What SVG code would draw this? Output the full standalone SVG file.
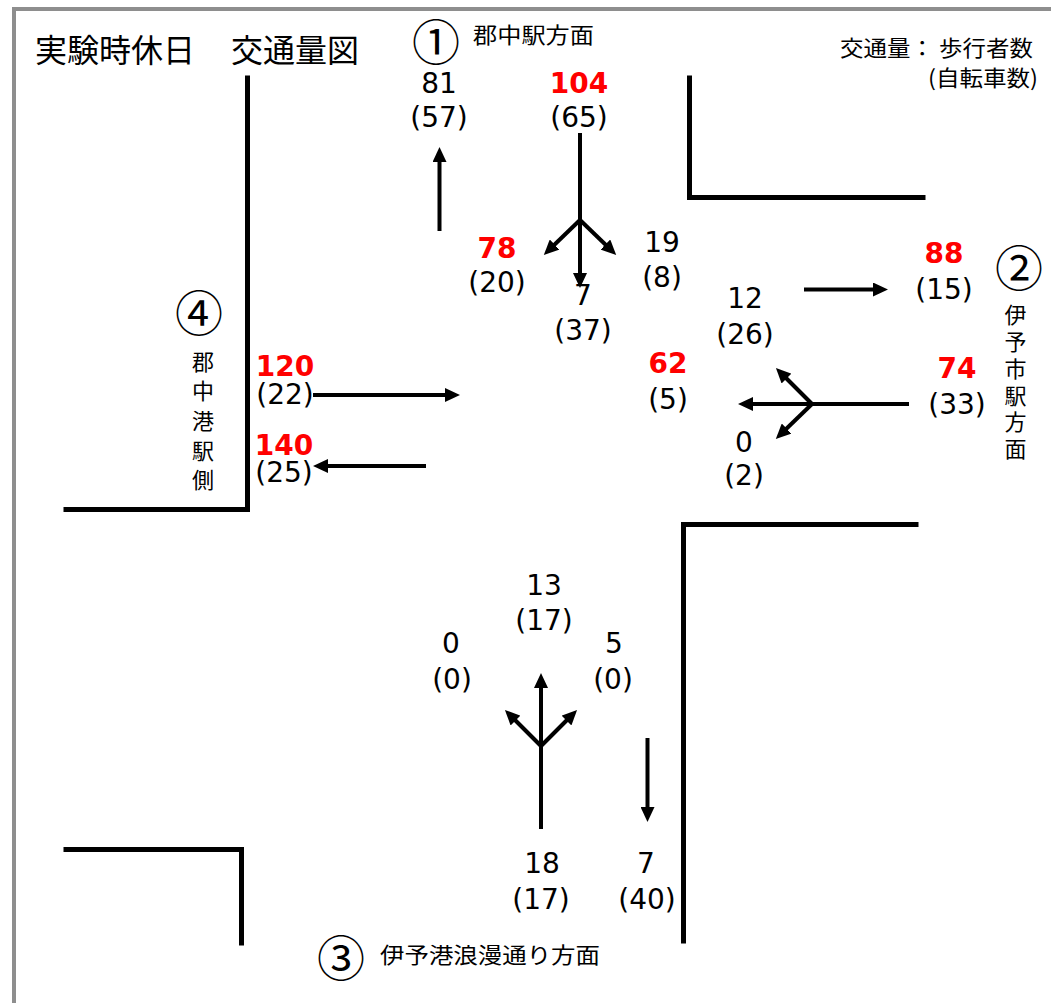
<svg xmlns="http://www.w3.org/2000/svg" width="1051" height="1003" viewBox="0 0 1051 1003">
<style>
.jp{font-family:"Noto Sans CJK JP","Noto Sans",sans-serif;fill:#000}
.num{font-family:"DejaVu Sans","Verdana",sans-serif;font-size:28px;fill:#000;text-anchor:middle}
.red{fill:#ff0000;font-weight:bold}
.road{stroke:#000;stroke-width:5;fill:none;stroke-linecap:square}
.arr{stroke:#000;stroke-width:4;fill:none}
.v{font-size:22px;text-anchor:middle}
.circ{font-size:48px;text-anchor:middle}
</style>
<defs>
<marker id="ah" viewBox="0 0 15 14" markerWidth="15" markerHeight="14" refX="5" refY="7" orient="auto" markerUnits="userSpaceOnUse">
<path d="M0,0 L15,7 L0,14 z" fill="#000"/>
</marker>
</defs>
<rect x="0" y="0" width="1051" height="1003" fill="#fff"/>
<rect id="frame" x="14" y="9" width="1100" height="1100" fill="none" stroke="#8e8e8e" stroke-width="4"/>

<g id="title">
<text class="jp" font-size="32" y="61.5"><tspan x="35">実験時休日</tspan><tspan x="231">交通量図</tspan></text>
</g>
<g id="legend">
<text class="jp" font-size="22" x="840" y="55.5" textLength="193" lengthAdjust="spacingAndGlyphs">交通量： 歩行者数</text>
<text class="jp" font-size="22" x="928" y="86" textLength="110" lengthAdjust="spacingAndGlyphs">(自転車数)</text>
</g>

<g id="roads">
<path class="road" d="M247.5,78 L247.5,509.5 L66,509.5"/>
<path class="road" d="M689.5,78 L689.5,197.5 L923,197.5"/>
<path class="road" d="M916,524.5 L683.5,524.5 L683.5,941"/>
<path class="road" d="M66,849.5 L241.5,849.5 L241.5,943"/>
</g>

<g id="dir1">
<text class="jp circ" x="436" y="60">①</text>
<text class="jp" font-size="22" x="473" y="43" textLength="121" lengthAdjust="spacingAndGlyphs">郡中駅方面</text>
</g>
<g id="dir2">
<text class="jp circ" x="1019" y="286">②</text>
<text class="jp v" x="1015.5" y="323.3">伊</text>
<text class="jp v" x="1015.5" y="350.3">予</text>
<text class="jp v" x="1015.5" y="377.3">市</text>
<text class="jp v" x="1015.5" y="404.3">駅</text>
<text class="jp v" x="1015.5" y="430.3">方</text>
<text class="jp v" x="1015.5" y="457.3">面</text>
</g>
<g id="dir3">
<text class="jp circ" x="341" y="976">③</text>
<text class="jp" font-size="22" x="380" y="962.5" textLength="220" lengthAdjust="spacingAndGlyphs">伊予港浪漫通り方面</text>
</g>
<g id="dir4">
<text class="jp circ" x="199" y="331">④</text>
<text class="jp v" x="203" y="370.3">郡</text>
<text class="jp v" x="203" y="399.3">中</text>
<text class="jp v" x="203" y="429.3">港</text>
<text class="jp v" x="203" y="459.3">駅</text>
<text class="jp v" x="203" y="488.3">側</text>
</g>

<g id="connectors">
<path class="arr" marker-end="url(#ah)" d="M439.5,231 L439.5,157"/>
<path class="arr" marker-end="url(#ah)" d="M580,133 L580,278"/>
<path class="arr" marker-end="url(#ah)" d="M580,220 L551,248"/>
<path class="arr" marker-end="url(#ah)" d="M580,220 L609,248"/>
<path class="arr" marker-end="url(#ah)" d="M804,289.5 L878,289.5"/>
<path class="arr" marker-end="url(#ah)" d="M909,404 L748,404"/>
<path class="arr" marker-end="url(#ah)" d="M812,404 L783,375"/>
<path class="arr" marker-end="url(#ah)" d="M812,404 L783,432"/>
<path class="arr" marker-end="url(#ah)" d="M313,395 L450,395"/>
<path class="arr" marker-end="url(#ah)" d="M426,466 L323,466"/>
<path class="arr" marker-end="url(#ah)" d="M541,829 L541,683"/>
<path class="arr" marker-end="url(#ah)" d="M541,746 L512,717"/>
<path class="arr" marker-end="url(#ah)" d="M541,746 L570,717"/>
<path class="arr" marker-end="url(#ah)" d="M647.5,738 L647.5,812"/>
</g>

<g id="counts">
<text class="num" x="439" y="93">81</text><text class="num" x="439" y="127">(57)</text>
<text class="num red" x="579" y="93">104</text><text class="num" x="579" y="127">(65)</text>
<text class="num red" x="497" y="258">78</text><text class="num" x="497" y="291.5">(20)</text>
<text class="num" x="583" y="305">7</text><text class="num" x="583" y="339.5">(37)</text>
<text class="num" x="662" y="252">19</text><text class="num" x="662" y="286.5">(8)</text>
<text class="num" x="745" y="308">12</text><text class="num" x="745" y="343.5">(26)</text>
<text class="num red" x="944" y="263">88</text><text class="num" x="944" y="298.5">(15)</text>
<text class="num red" x="668" y="373">62</text><text class="num" x="668" y="408.5">(5)</text>
<text class="num red" x="957" y="378">74</text><text class="num" x="957" y="413.5">(33)</text>
<text class="num" x="744" y="452">0</text><text class="num" x="744" y="484.5">(2)</text>
<text class="num red" x="285" y="376">120</text><text class="num" x="285" y="403.5">(22)</text>
<text class="num red" x="284" y="455">140</text><text class="num" x="284" y="481.5">(25)</text>
<text class="num" x="544" y="595">13</text><text class="num" x="544" y="629.5">(17)</text>
<text class="num" x="451" y="653">0</text><text class="num" x="452" y="688.5">(0)</text>
<text class="num" x="614" y="653">5</text><text class="num" x="613" y="688.5">(0)</text>
<text class="num" x="542" y="873">18</text><text class="num" x="541" y="908.5">(17)</text>
<text class="num" x="646" y="873">7</text><text class="num" x="647" y="908.5">(40)</text>
</g>
</svg>
